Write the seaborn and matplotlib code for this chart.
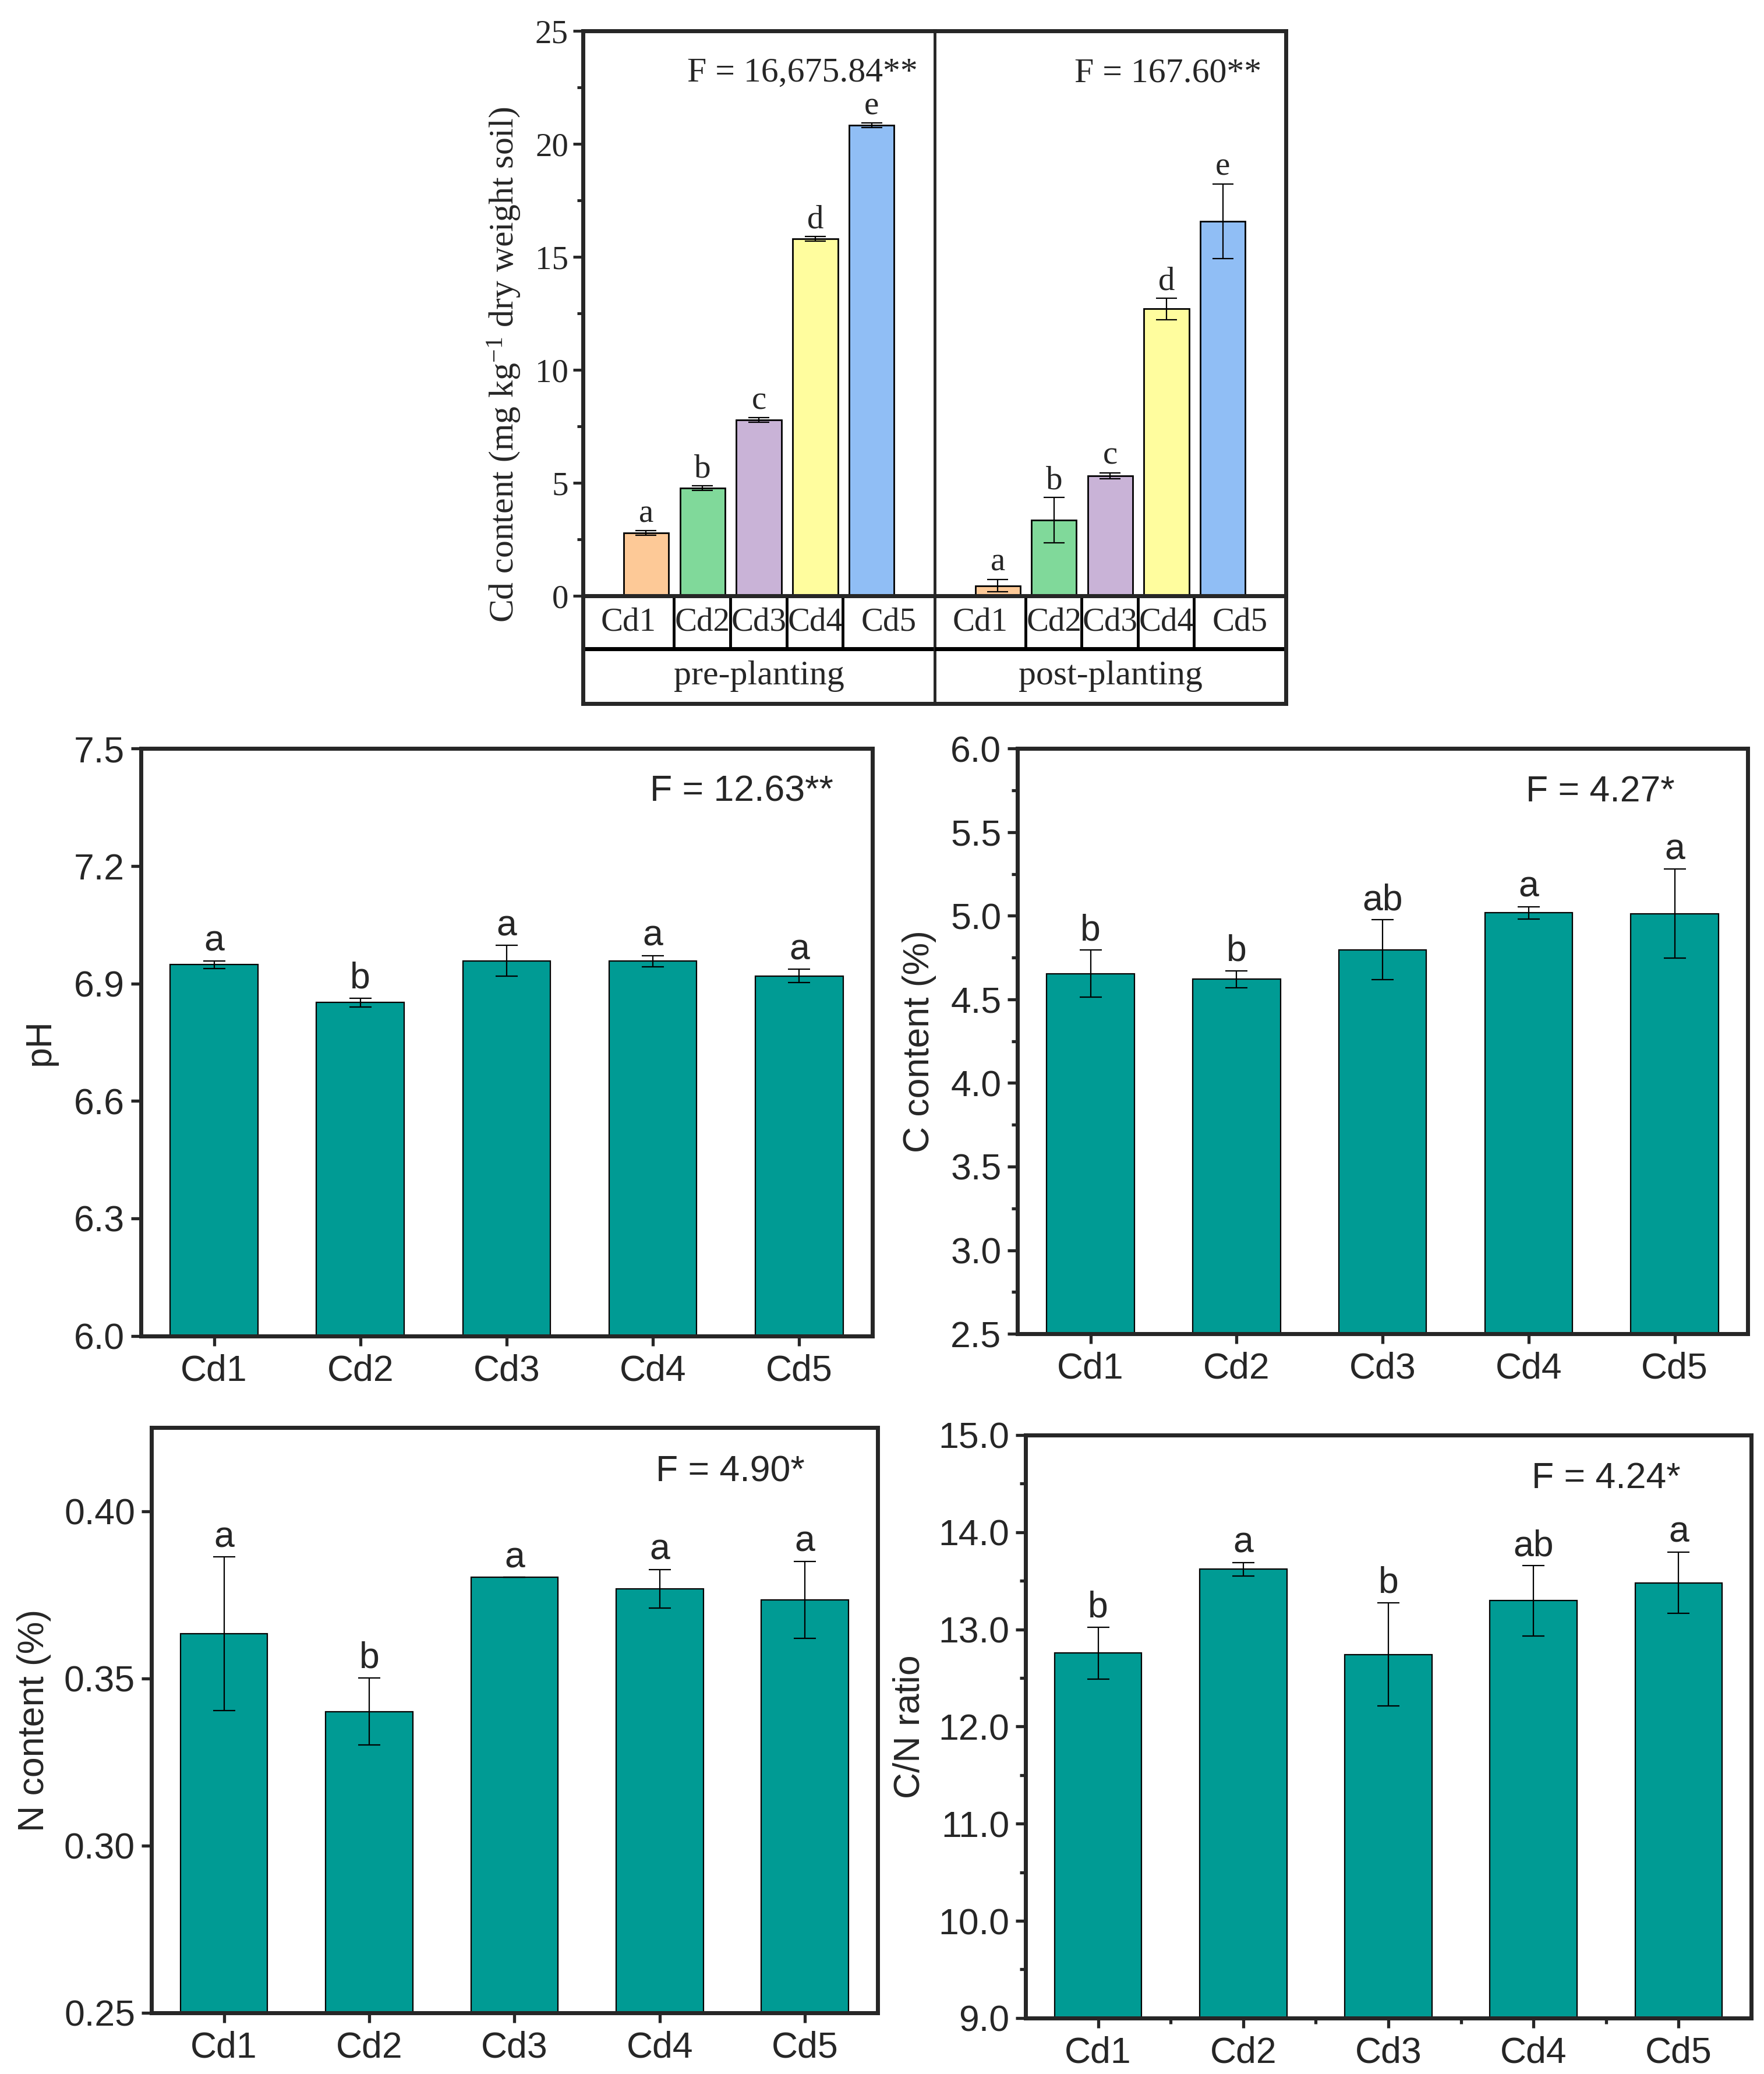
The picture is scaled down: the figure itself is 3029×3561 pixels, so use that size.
import numpy as np
import pandas as pd
import matplotlib
matplotlib.use("Agg")
import matplotlib.pyplot as plt
from matplotlib.ticker import MultipleLocator, FixedLocator, FormatStrFormatter
import seaborn as sns

treatments = ["Cd1", "Cd2", "Cd3", "Cd4", "Cd5"]

# soil Cd content (mg/kg), before and after planting
cd_pre = [2.78, 4.77, 7.79, 15.81, 20.84]
cd_pre_err = [0.10, 0.10, 0.10, 0.10, 0.10]
cd_pre_letters = ["a", "b", "c", "d", "e"]
cd_post = [0.45, 3.35, 5.32, 12.70, 16.58]
cd_post_err = [0.28, 1.00, 0.13, 0.47, 1.66]
cd_post_letters = ["a", "b", "c", "d", "e"]

ph = [6.948, 6.851, 6.958, 6.957, 6.919]
ph_err = [0.010, 0.011, 0.039, 0.014, 0.017]
ph_letters = ["a", "b", "a", "a", "a"]

c_content = [4.654, 4.620, 4.797, 5.017, 5.012]
c_err = [0.140, 0.050, 0.178, 0.037, 0.267]
c_letters = ["b", "b", "ab", "a", "a"]

n_content = [0.3633, 0.3401, 0.3802, 0.3768, 0.3735]
n_err = [0.0230, 0.0100, 0.0, 0.0057, 0.0115]
n_letters = ["a", "b", "a", "a", "a"]

cn_ratio = [12.756, 13.618, 12.742, 13.294, 13.478]
cn_err = [0.267, 0.070, 0.530, 0.360, 0.316]
cn_letters = ["b", "a", "b", "ab", "a"]

CD_COLORS = ["#FDC997", "#80D99A", "#C9B3D7", "#FFFD9E", "#90BEF5"]
TEAL = "#009B94"

sns.set_theme(style="ticks")
plt.rcParams["font.family"] = ["Liberation Sans", "DejaVu Sans"]
plt.rcParams["mathtext.fontset"] = "custom"
plt.rcParams["mathtext.rm"] = "Liberation Serif"
plt.rcParams["mathtext.it"] = "Liberation Serif:italic"

SERIF = ["Liberation Serif", "DejaVu Serif"]
SANS = ["Liberation Sans", "DejaVu Sans"]
SPINE_W = 5

fig = plt.figure(figsize=(30.29, 35.61), dpi=100)


def add_errorbars(ax, vals, errs, cap=14):
    ax.errorbar(np.arange(len(vals)), vals, yerr=errs, fmt="none",
                ecolor="black", elinewidth=1.6, capsize=cap, capthick=1.6,
                zorder=5)


def add_letters(ax, vals, errs, letters, family, size, offset=3):
    for i, (v, e, s) in enumerate(zip(vals, errs, letters)):
        ax.annotate(s, (i, v + e), xytext=(0, offset), textcoords="offset points",
                    ha="center", va="bottom", fontsize=size, family=family)


# ---------------- top: Cd content pre/post planting ----------------
cd_left, cd_mid, cd_right = 0.3305, 0.5299, 0.7289
cd_bottom, cd_top = 0.7127, 0.985
tab_bottom = 0.6608
xl = (-1.12, 5.12)
cell_edges = [0.49, 1.49, 2.49, 3.49]
cell_centers = [(-1.12 + 0.49) / 2, 1.0, 2.0, 3.0, (3.49 + 5.12) / 2]

panels = [
    ("pre-planting", cd_pre, cd_pre_err, cd_pre_letters, "F = 16,675.84**", 0.952,
     [cd_left, cd_bottom, cd_mid - cd_left, cd_top - cd_bottom]),
    ("post-planting", cd_post, cd_post_err, cd_post_letters, "F = 167.60**", 0.930,
     [cd_mid, cd_bottom, cd_right - cd_mid, cd_top - cd_bottom]),
]

for k, (stage, vals, errs, letters, ftxt, fx, rect) in enumerate(panels):
    ax = fig.add_axes(rect)
    ax.patch.set_alpha(0)
    df = pd.DataFrame({"treatment": treatments, "value": vals})
    sns.barplot(data=df, x="treatment", y="value", hue="treatment",
                palette=CD_COLORS, saturation=1, width=0.8, legend=False,
                edgecolor="black", linewidth=2, errorbar=None, ax=ax)
    add_errorbars(ax, vals, errs, cap=13)
    add_letters(ax, vals, errs, letters, SERIF, 41, offset=2)
    ax.set_xlim(*xl)
    ax.set_ylim(0, 25)
    ax.set_xticks([])
    ax.set_xlabel("")
    ax.text(fx, 0.925, ftxt, transform=ax.transAxes, ha="right", va="center",
            fontsize=43, family=SERIF)
    for sp in ax.spines.values():
        sp.set_linewidth(SPINE_W)
        sp.set_visible(True)
    if k == 0:
        ax.spines["right"].set_linewidth(3.5)
        ax.yaxis.set_major_locator(MultipleLocator(5))
        ax.yaxis.set_minor_locator(MultipleLocator(2.5))
        ax.tick_params(axis="y", which="major", length=12, width=3.5,
                       labelsize=41, pad=6)
        ax.tick_params(axis="y", which="minor", length=7, width=3.5)
        for lab in ax.get_yticklabels():
            lab.set_family(SERIF)
        ax.set_ylabel("Cd content (mg kg$^{-1}$ dry weight soil)",
                      fontsize=43, family=SERIF)
        ax.yaxis.set_label_coords(-0.17, 0.4095)
    else:
        ax.spines["left"].set_visible(False)
        ax.set_yticks([])
        ax.set_ylabel("")

    # category table underneath
    tab = fig.add_axes([rect[0], tab_bottom, rect[2], cd_bottom - tab_bottom])
    tab.set_xlim(*xl)
    tab.set_ylim(0, 1)
    tab.set_xticks([])
    tab.set_yticks([])
    tab.patch.set_alpha(0)
    for sp in tab.spines.values():
        sp.set_linewidth(SPINE_W)
    if k == 0:
        tab.spines["right"].set_linewidth(3.5)
    else:
        tab.spines["left"].set_visible(False)
    tab.axhline(0.51, color="black", lw=SPINE_W)
    tab.vlines(cell_edges, 0.51, 1, color="black", lw=3.5)
    for cx, name in zip(cell_centers, treatments):
        tab.text(cx, 0.755, name, ha="center", va="center", fontsize=41,
                 family=SERIF)
    tab.text(0.5, 0.255, stage, transform=tab.transAxes, ha="center",
             va="center", fontsize=43, family=SERIF)


# ---------------- bottom: soil properties ----------------
def soil_panel(rect, vals, errs, letters, ylabel, ylim, major, minor, fmt,
               ftxt, fpos, label_x, xminor=False):
    ax = fig.add_axes(rect)
    df = pd.DataFrame({"treatment": treatments, "value": vals})
    sns.barplot(data=df, x="treatment", y="value", color=TEAL, saturation=1,
                width=0.6, edgecolor="black", linewidth=1.6, errorbar=None,
                ax=ax)
    add_errorbars(ax, vals, errs, cap=14)
    add_letters(ax, vals, errs, letters, SANS, 45, offset=3)
    ax.set_xlim(-0.5, 4.5)
    ax.set_ylim(*ylim)
    ax.yaxis.set_major_locator(MultipleLocator(major))
    if minor:
        ax.yaxis.set_minor_locator(MultipleLocator(minor))
    if xminor:
        ax.xaxis.set_minor_locator(FixedLocator([0.5, 1.5, 2.5, 3.5]))
    ax.yaxis.set_major_formatter(FormatStrFormatter(fmt))
    for sp in ax.spines.values():
        sp.set_linewidth(SPINE_W)
        sp.set_visible(True)
    ax.tick_params(which="major", length=12, width=3.8, labelsize=45, pad=8)
    ax.tick_params(which="minor", length=7, width=3.8)
    ax.tick_params(axis="x", which="major", pad=10)
    ax.set_xlabel("")
    ax.set_ylabel(ylabel, fontsize=45)
    ax.yaxis.set_label_coords(label_x, 0.5)
    ax.text(fpos[0], fpos[1], ftxt, transform=ax.transAxes, ha="right",
            va="center", fontsize=45)
    return ax


soil_panel([0.0799, 0.3559, 0.4146, 0.2832], ph, ph_err, ph_letters, "pH",
           (6.0, 7.5), 0.3, None, "%.1f", "F = 12.63**", (0.947, 0.927), -0.115)
soil_panel([0.5768, 0.3569, 0.4140, 0.2822], c_content, c_err, c_letters,
           "C content (%)", (2.5, 6.0), 0.5, 0.25, "%.1f", "F = 4.27*",
           (0.900, 0.926), -0.111)
soil_panel([0.0858, 0.0295, 0.4117, 0.2822], n_content, n_err, n_letters,
           "N content (%)", (0.25, 0.425), 0.05, None, "%.2f", "F = 4.90*",
           (0.900, 0.924), -0.138)
soil_panel([0.5814, 0.0270, 0.4113, 0.2811], cn_ratio, cn_err, cn_letters,
           "C/N ratio", (9.0, 15.0), 1.0, 0.5, "%.1f", "F = 4.24*",
           (0.903, 0.925), -0.136, xminor=True)

fig.savefig("out.png", dpi=100, facecolor="white")
